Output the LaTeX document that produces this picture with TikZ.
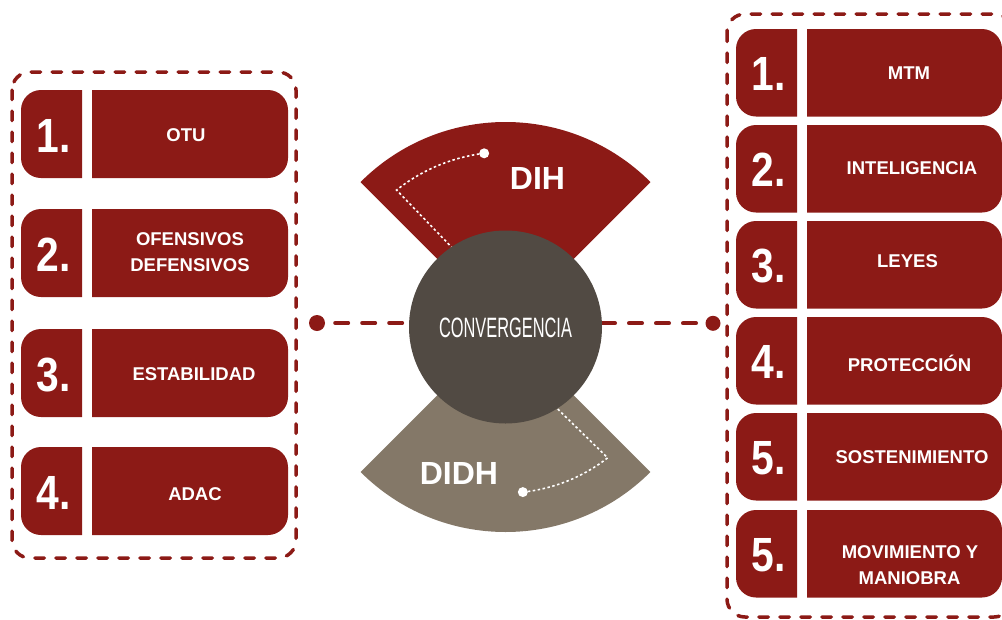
\documentclass[tikz,border=0pt]{standalone}
\usepackage{fontspec}
\setmainfont{Liberation Sans}
\usetikzlibrary{calc}
\definecolor{itemred}{RGB}{140,26,22}
\definecolor{circ}{RGB}{81,74,67}
\definecolor{tanc}{RGB}{132,120,104}
\tikzset{
 frame/.style={draw=itemred, line width=3.5pt, dash pattern=on 9.5pt off 11.5pt, line cap=round, rounded corners=18pt},
 conn/.style={draw=itemred, line width=4pt, dash pattern=on 13pt off 14pt, line cap=round},
 whitedots/.style={draw=white, line width=1.6pt, dash pattern=on 2.5pt off 2.5pt},
 numlab/.style={text=white, font=\fontsize{48}{48}\selectfont\bfseries, inner sep=0pt, text height=34.4pt, text depth=0pt},
 lab/.style={text=white, font=\fontsize{18.5}{18.5}\selectfont\bfseries, inner sep=0pt, text height=13.2pt, text depth=0pt},
 fantext/.style={text=white, font=\fontsize{32}{32}\selectfont\bfseries, inner sep=0pt, text height=23pt, text depth=0pt},
 reddot/.style={circle, fill=itemred, inner sep=0pt, minimum size=16pt},
 whitedot/.style={circle, fill=white, inner sep=0pt, minimum size=10pt},
 convnode/.style={circle, fill=circ, minimum size=193pt, inner sep=0pt, text=white, font=\fontsize{28}{28}\selectfont, text height=20pt, text depth=0pt},
}
\newcommand\NumTxt[1]{\scalebox{0.85}[1]{#1}}
\newcommand\ItemBox[7]{%
 \begin{scope}
  \clip (#2-1,#6-1) rectangle (#3,#6+#7+1);
  \fill[itemred,rounded corners=20pt] (#2,#6) rectangle (#3+30,#6+#7);
 \end{scope}
 \begin{scope}
  \clip (#4,#6-1) rectangle (#5+1,#6+#7+1);
  \fill[itemred,rounded corners=20pt] (#4-30,#6) rectangle (#5,#6+#7);
 \end{scope}
 \coordinate (#1n) at ({(#2+#3)/2+2},{#6+#7/2+1});
}
\begin{document}
\begin{tikzpicture}[x=1pt,y=-1pt]
\useasboundingbox (0,0) rectangle (1002,619);
\clip (0,0) rectangle (1002,619);
\coordinate (c) at (505.5,327);
% fans
\fill[itemred] (c) -- ++(225:205) arc[start angle=225,end angle=315,radius=205] -- cycle;
\fill[tanc] (c) -- ++(45:205) arc[start angle=45,end angle=135,radius=205] -- cycle;
\draw[whitedots] ($(c)+(263:175)$) arc[start angle=263,end angle=231.5,radius=175] -- ($(c)+(236:96)$);
\draw[whitedots] ($(c)+(84:166)$) arc[start angle=84,end angle=52,radius=166] -- ($(c)+(57.7:96)$);
\node[whitedot] (tdot) at ($(c)+(263:175)$) {};
\node[whitedot] (bdot) at ($(c)+(84:166)$) {};
\node[fantext] (dih) at (537.5,178) {DIH};
\node[fantext] (didh) at (459,472.5) {DIDH};
% connectors
\node[reddot] (ldot) at (317,323) {};
\node[reddot, minimum size=15pt] (rdot) at (713,323.3) {};
\coordinate (lend) at (409,323);
\coordinate (rstart) at (602,323.3);
\draw[conn, shorten <=10pt] (ldot) -- (lend);
\draw[conn] (rstart) -- (rdot);
\node[convnode] (conv) at (c) {\scalebox{0.585}[1]{CONVERGENCIA}};
% frames
\draw[frame] (12,72) rectangle (296,558);
\draw[frame] (727,14) rectangle (1012,617);
% left items
\ItemBox{l1}{21}{82}{92}{288}{90}{88}
\ItemBox{l2}{21}{82}{92}{288}{209}{88}
\ItemBox{l3}{21}{82}{92}{288}{329}{88}
\ItemBox{l4}{21}{82}{92}{288}{447}{88}
\node[numlab] (l1num) at (l1n) {\NumTxt{1.}};
\node[numlab] (l2num) at (l2n) {\NumTxt{2.}};
\node[numlab] (l3num) at (l3n) {\NumTxt{3.}};
\node[numlab] (l4num) at (l4n) {\NumTxt{4.}};
\node[lab] (l1lab) at (186,134.5) {OTU};
\node[lab] (l2laba) at (190,238.4) {OFENSIVOS};
\node[lab] (l2labb) at (190,264.5) {DEFENSIVOS};
\node[lab] (l3lab) at (194,373.8) {ESTABILIDAD};
\node[lab] (l4lab) at (195,494) {ADAC};
% right items
\ItemBox{r1}{736}{797}{807}{1002}{29}{87.5}
\ItemBox{r2}{736}{797}{807}{1002}{125}{87.5}
\ItemBox{r3}{736}{797}{807}{1002}{221}{87.5}
\ItemBox{r4}{736}{797}{807}{1002}{317}{87.5}
\ItemBox{r5}{736}{797}{807}{1002}{413}{87.5}
\ItemBox{r6}{736}{797}{807}{1002}{510}{87.5}
\node[numlab] (r1num) at (r1n) {\NumTxt{1.}};
\node[numlab] (r2num) at (r2n) {\NumTxt{2.}};
\node[numlab] (r3num) at (r3n) {\NumTxt{3.}};
\node[numlab] (r4num) at (r4n) {\NumTxt{4.}};
\node[numlab] (r5num) at (r5n) {\NumTxt{5.}};
\node[numlab] (r6num) at (r6n) {\NumTxt{5.}};
\node[lab] (r1lab) at (909,73.3) {MTM};
\node[lab] (r2lab) at (912,168) {INTELIGENCIA};
\node[lab] (r3lab) at (907.5,261) {LEYES};
\node[lab] (r4lab) at (909.5,364.5) {PROTECCIÓN};
\node[lab] (r5lab) at (912,456.5) {SOSTENIMIENTO};
\node[lab] (r6laba) at (910,552) {MOVIMIENTO Y};
\node[lab] (r6labb) at (909.5,577.5) {MANIOBRA};
\end{tikzpicture}
\end{document}
